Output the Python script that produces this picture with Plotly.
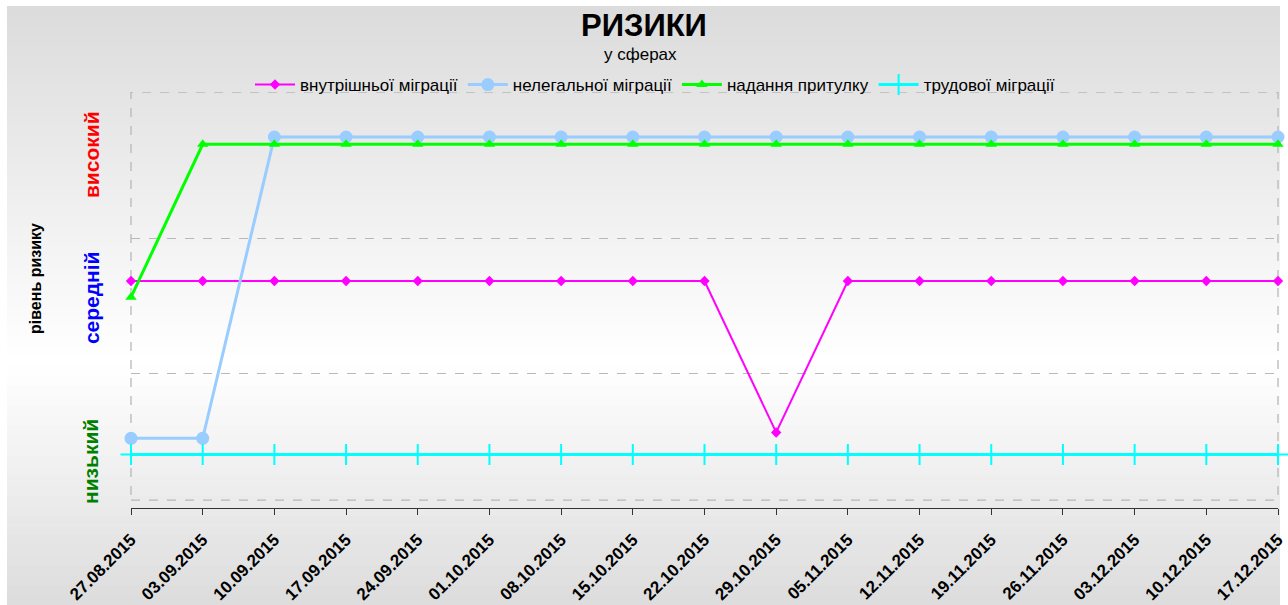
import plotly.graph_objects as go

# ---- data ----
dates = ["27.08.2015", "03.09.2015", "10.09.2015", "17.09.2015", "24.09.2015",
         "01.10.2015", "08.10.2015", "15.10.2015", "22.10.2015", "29.10.2015",
         "05.11.2015", "12.11.2015", "19.11.2015", "26.11.2015", "03.12.2015",
         "10.12.2015", "17.12.2015"]
# risk level scale: 1 = низький, 2 = середній, 3 = високий (series slightly offset as in source)
internal = [2.0, 2.0, 2.0, 2.0, 2.0, 2.0, 2.0, 2.0, 2.0, 0.97, 2.0, 2.0, 2.0, 2.0, 2.0, 2.0, 2.0]
illegal = [0.93, 0.93, 2.98, 2.98, 2.98, 2.98, 2.98, 2.98, 2.98, 2.98, 2.98, 2.98, 2.98, 2.98, 2.98, 2.98, 2.98]
asylum = [1.89, 2.93, 2.93, 2.93, 2.93, 2.93, 2.93, 2.93, 2.93, 2.93, 2.93, 2.93, 2.93, 2.93, 2.93, 2.93, 2.93]
labour = [0.82] * 17
series_names = ["внутрішньої міграції", "нелегальної міграції", "надання притулку", "трудової міграції"]
level_labels = ["високий", "середній", "низький"]
level_pos = [2.857, 1.884, 0.769]
level_colors = ["#ff0000", "#0000ff", "#008000"]

Y_MIN, Y_MAX = 0.456, 3.286
GRID_VALS = [1.374, 2.29]
GRID_BOTTOM = 0.51

FONT = "Liberation Sans, Arial, sans-serif"

fig = go.Figure()
styles = [
    dict(color="#ff00ff", width=2, symbol="diamond", msize=8, mline=0),
    dict(color="#99ccff", width=3, symbol="circle", msize=13, mline=0),
    dict(color="#00ff00", width=3, symbol="triangle-up", msize=10, mline=0),
    dict(color="#00ffff", width=3, symbol="cross-thin", msize=15, mline=2),
]
for name, vals, st in zip(series_names, [internal, illegal, asylum, labour], styles):
    fig.add_trace(go.Scatter(
        x=dates, y=vals, name=name, mode="lines+markers",
        line=dict(color=st["color"], width=st["width"]),
        marker=dict(symbol=st["symbol"], size=st["msize"], color=st["color"],
                    line=dict(color=st["color"], width=st["mline"])),
        cliponaxis=False,
    ))

# gradient background (bands)
W, H = 1288, 605
L, R, T, B = 131, 10, 92, 97
pw, ph = W - L - R, H - T - B
def px_to_paper_x(px):
    return (px - L) / pw
def px_to_paper_y(py):
    return (H - B - py) / ph

shapes = []
top_px, bot_px, mid_px = 6, 605, 365
n = 60
for i in range(n):
    y0 = top_px + (bot_px - top_px) * i / n
    y1 = top_px + (bot_px - top_px) * (i + 1) / n
    yc = (y0 + y1) / 2
    if yc < mid_px:
        g = 219 + (255 - 219) * (yc - top_px) / (mid_px - top_px)
    else:
        g = 255 - (255 - 220) * (yc - mid_px) / (bot_px - mid_px)
    g = int(round(g))
    shapes.append(dict(type="rect", xref="paper", yref="paper",
                       x0=px_to_paper_x(7), x1=px_to_paper_x(1280),
                       y0=px_to_paper_y(y1 + 0.5), y1=px_to_paper_y(y0),
                       fillcolor=f"rgb({g},{g},{g})", line=dict(width=0), layer="below"))
# dashed plot frame
shapes.append(dict(type="rect", xref="paper", yref="y", x0=0, x1=1, y0=GRID_BOTTOM, y1=Y_MAX,
                   line=dict(color="#b8b8b8", width=1.3, dash="dash"), layer="below"))

annotations = [
    dict(text="<b>РИЗИКИ</b>", x=px_to_paper_x(644), y=px_to_paper_y(26), xref="paper", yref="paper",
         showarrow=False, font=dict(size=31, color="black", family=FONT), xanchor="center", yanchor="middle"),
    dict(text="у сферах", x=px_to_paper_x(640), y=px_to_paper_y(54), xref="paper", yref="paper",
         showarrow=False, font=dict(size=17, color="black", family=FONT), xanchor="center", yanchor="middle"),
    dict(text="<b>рівень ризику</b>", x=px_to_paper_x(35), y=px_to_paper_y(279), xref="paper", yref="paper",
         showarrow=False, textangle=-90, font=dict(size=16, color="black", family=FONT),
         xanchor="center", yanchor="middle"),
]
for lab, pos, col in zip(level_labels, level_pos, level_colors):
    annotations.append(dict(text=f"<b>{lab}</b>", x=px_to_paper_x(91), y=pos, xref="paper", yref="y",
                            showarrow=False, textangle=-90, font=dict(size=21, color=col, family=FONT),
                            xanchor="center", yanchor="middle"))

fig.update_layout(
    width=W, height=H,
    margin=dict(l=L, r=R, t=T, b=B, autoexpand=False),
    paper_bgcolor="white", plot_bgcolor="rgba(0,0,0,0)",
    font=dict(family=FONT, color="black"),
    shapes=shapes, annotations=annotations,
    legend=dict(orientation="h", x=px_to_paper_x(655), xanchor="center",
                y=px_to_paper_y(85), yanchor="middle", font=dict(size=17, family=FONT),
                bgcolor="rgba(0,0,0,0)", itemwidth=40, tracegroupgap=0),
    showlegend=True,
    xaxis=dict(type="category", range=[0, len(dates) - 1], showgrid=False, showline=True,
               linecolor="#333333", linewidth=1.3, ticks="outside", ticklen=6, tickcolor="#333333",
               tickangle=-45, tickfont=dict(size=17, family=FONT, color="black"),
               ticklabelstandoff=8, zeroline=False, automargin=False),
    yaxis=dict(range=[Y_MIN, Y_MAX], tickvals=GRID_VALS, showticklabels=False, showgrid=True,
               gridcolor="#b8b8b8", griddash="dash", gridwidth=1.3, zeroline=False, showline=False,
               fixedrange=True, automargin=False),
)
fig.update_xaxes(tickprefix="<b>", ticksuffix="</b>")

fig.write_html("out.html", config={"displayModeBar": False},
               post_script="document.body.style.margin='0';document.body.style.overflow='hidden';")
